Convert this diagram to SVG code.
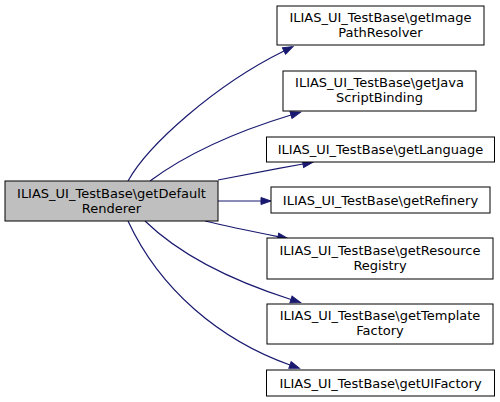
<svg xmlns="http://www.w3.org/2000/svg" width="500" height="402" viewBox="0 0 500 402">
<style>
.n rect{fill:#fff;stroke:#000;stroke-width:1}
.n.main rect{fill:#bfbfbf}
text{font-family:"DejaVu Sans",sans-serif;font-size:13px;text-anchor:middle;fill:#000}
.e path{fill:none;stroke:#191970;stroke-width:1.2}
</style>
<defs>
<marker id="ah" markerUnits="userSpaceOnUse" markerWidth="11" markerHeight="8" refX="0" refY="3.5" orient="auto" overflow="visible">
<path d="M0,0 L10,3.5 L0,7 z" fill="#191970" stroke="#191970"/>
</marker>
</defs>
<g class="e">
<path d="M128,181 C148,145 215,85 284,51" marker-end="url(#ah)"/>
<path d="M150,181 C185,155 235,132 291,115" marker-end="url(#ah)"/>
<path d="M218,180 C250,174 275,169 303,164" marker-end="url(#ah)"/>
<path d="M218,201 L261,201" marker-end="url(#ah)"/>
<path d="M205,221 C230,227 255,232 278,236.6" marker-end="url(#ah)"/>
<path d="M145,221 C180,255 230,280 291,299.5" marker-end="url(#ah)"/>
<path d="M128,221 C160,290 220,340 290,365" marker-end="url(#ah)"/>
</g>
<g id="main" class="n main"><rect x="5" y="181" width="213" height="40"/><text x="111.5" y="198">ILIAS_UI_TestBase\getDefault</text><text x="111.5" y="213">Renderer</text></g>
<g id="n1" class="n"><rect x="277" y="6" width="207" height="39"/><text x="380.5" y="22">ILIAS_UI_TestBase\getImage</text><text x="380.5" y="37">PathResolver</text></g>
<g id="n2" class="n"><rect x="283" y="71" width="193" height="40"/><text x="379.5" y="87">ILIAS_UI_TestBase\getJava</text><text x="379.5" y="102">ScriptBinding</text></g>
<g id="n3" class="n"><rect x="266.5" y="137" width="228" height="25"/><text x="380.5" y="154">ILIAS_UI_TestBase\getLanguage</text></g>
<g id="n4" class="n"><rect x="271" y="187" width="219" height="26"/><text x="380.5" y="205">ILIAS_UI_TestBase\getRefinery</text></g>
<g id="n5" class="n"><rect x="267" y="238" width="226" height="41"/><text x="380" y="255">ILIAS_UI_TestBase\getResource</text><text x="380" y="270">Registry</text></g>
<g id="n6" class="n"><rect x="267" y="304" width="226" height="40"/><text x="380" y="320">ILIAS_UI_TestBase\getTemplate</text><text x="380" y="335">Factory</text></g>
<g id="n7" class="n"><rect x="266.5" y="370" width="228" height="26"/><text x="380.5" y="388">ILIAS_UI_TestBase\getUIFactory</text></g>
</svg>
